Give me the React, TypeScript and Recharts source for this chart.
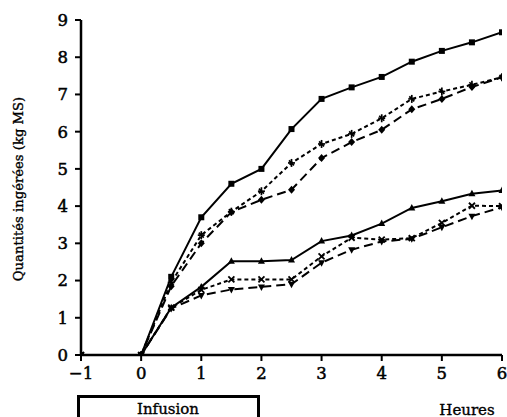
import React from "react";
import { LineChart, Line, XAxis, YAxis } from "recharts";

const hours = [-1, 0, 0.5, 1, 1.5, 2, 2.5, 3, 3.5, 4, 4.5, 5, 5.5, 6];
const seriesSquare = [0, 0, 2.1, 3.7, 4.6, 5.0, 6.07, 6.88, 7.19, 7.47, 7.88, 8.17, 8.4, 8.67];
const seriesStar = [0, 0, 1.95, 3.22, 3.85, 4.4, 5.16, 5.67, 5.94, 6.36, 6.88, 7.08, 7.26, 7.46];
const seriesDiamond = [0, 0, 1.85, 3.0, 3.84, 4.17, 4.44, 5.29, 5.72, 6.05, 6.6, 6.88, 7.2, 7.46];
const seriesTriangle = [0, 0, 1.27, 1.83, 2.52, 2.52, 2.55, 3.06, 3.21, 3.53, 3.95, 4.13, 4.33, 4.42];
const seriesCross = [0, 0, 1.27, 1.75, 2.03, 2.03, 2.03, 2.65, 3.15, 3.1, 3.14, 3.55, 4.01, 4.0];
const seriesInvTriangle = [0, 0, 1.25, 1.6, 1.76, 1.83, 1.9, 2.48, 2.83, 3.05, 3.12, 3.43, 3.73, 3.97];

const xTicks = [-1, 0, 1, 2, 3, 4, 5, 6];
const yTicks = [0, 1, 2, 3, 4, 5, 6, 7, 8, 9];
const yLabel = "Quantités ingérées (kg MS)";
const xLabel = "Heures";
const infusionLabel = "Infusion";

const data = hours.map((h, i) => ({
  h,
  a: seriesSquare[i],
  b: seriesStar[i],
  c: seriesDiamond[i],
  d: seriesTriangle[i],
  e: seriesCross[i],
  f: seriesInvTriangle[i],
}));

const FONT = "'DejaVu Serif', serif";

type Shape = "square" | "star" | "diamond" | "triangle" | "cross" | "invtri";

const makeDot = (shape: Shape) => (props: any) => {
  const { cx, cy, index } = props;
  const k = `dot-${shape}-${index}`;
  if (cx == null || cy == null) return <g key={k} />;
  switch (shape) {
    case "square":
      return <rect key={k} x={cx - 3} y={cy - 3} width={6} height={6} fill="#000" />;
    case "star":
      return (
        <g key={k} stroke="#000" strokeWidth={1.7}>
          <line x1={cx - 3.5} y1={cy} x2={cx + 3.5} y2={cy} />
          <line x1={cx} y1={cy - 4} x2={cx} y2={cy + 4} />
          <line x1={cx - 2.5} y1={cy - 2.5} x2={cx + 2.5} y2={cy + 2.5} />
        </g>
      );
    case "diamond":
      return <polygon key={k} points={`${cx},${cy - 4} ${cx + 3.5},${cy} ${cx},${cy + 4} ${cx - 3.5},${cy}`} fill="#000" />;
    case "triangle":
      return <polygon key={k} points={`${cx},${cy - 4} ${cx + 3.5},${cy + 2.5} ${cx - 3.5},${cy + 2.5}`} fill="#000" />;
    case "cross":
      return (
        <g key={k} stroke="#000" strokeWidth={1.8}>
          <line x1={cx - 3} y1={cy - 3} x2={cx + 3} y2={cy + 3} />
          <line x1={cx - 3} y1={cy + 3} x2={cx + 3} y2={cy - 3} />
        </g>
      );
    case "invtri":
    default:
      return <polygon key={k} points={`${cx},${cy + 4} ${cx + 3.5},${cy - 2.5} ${cx - 3.5},${cy - 2.5}`} fill="#000" />;
  }
};

const tickStyle = { fill: "#000", stroke: "#000", strokeWidth: 0.5, fontSize: 16.5, fontFamily: FONT };

export default function App() {
  return (
    <div style={{ position: "absolute", left: 0, top: 0, width: 507, height: 417, background: "#fff", overflow: "hidden" }}>
      <LineChart width={507} height={417} data={data} margin={{ top: 20, right: 5, left: 21, bottom: 22 }}>
        <XAxis
          dataKey="h"
          type="number"
          domain={[-1, 6]}
          ticks={xTicks}
          tickFormatter={(v: number) => (v < 0 ? `\u2212${Math.abs(v)}` : `${v}`)}
          height={40}
          tickSize={6}
          tickMargin={6}
          axisLine={{ stroke: "#000", strokeWidth: 2.5 }}
          tickLine={{ stroke: "#000", strokeWidth: 2 }}
          tick={tickStyle}
          allowDataOverflow
        />
        <YAxis
          type="number"
          domain={[0, 9]}
          ticks={yTicks}
          width={60}
          tickSize={6}
          tickMargin={7}
          axisLine={{ stroke: "#000", strokeWidth: 2.5 }}
          tickLine={{ stroke: "#000", strokeWidth: 2 }}
          tick={tickStyle}
          allowDataOverflow
        />
        <Line dataKey="a" stroke="#000" strokeWidth={2} dot={makeDot("square")} isAnimationActive={false} />
        <Line dataKey="b" stroke="#000" strokeWidth={2} strokeDasharray="4 3" dot={makeDot("star")} isAnimationActive={false} />
        <Line dataKey="c" stroke="#000" strokeWidth={2} strokeDasharray="9 5" dot={makeDot("diamond")} isAnimationActive={false} />
        <Line dataKey="d" stroke="#000" strokeWidth={2} dot={makeDot("triangle")} isAnimationActive={false} />
        <Line dataKey="e" stroke="#000" strokeWidth={2} strokeDasharray="4 3" dot={makeDot("cross")} isAnimationActive={false} />
        <Line dataKey="f" stroke="#000" strokeWidth={2} strokeDasharray="9 5" dot={makeDot("invtri")} isAnimationActive={false} />
      </LineChart>
      <svg width={507} height={417} style={{ position: "absolute", left: 0, top: 0, pointerEvents: "none" }}>
        <text
          transform="translate(18,189) rotate(-90)"
          textAnchor="middle"
          dominantBaseline="central"
          fontFamily={FONT}
          fontSize={13.2}
          stroke="#000"
          strokeWidth={0.35}
          fill="#000"
        >
          {yLabel}
        </text>
        <path d="M78.5,420 L78.5,396.5 L258.5,396.5 L258.5,420" fill="none" stroke="#000" strokeWidth={3} />
        <text x={168} y={414} textAnchor="middle" fontFamily={FONT} fontSize={15} stroke="#000" strokeWidth={0.35} fill="#000">
          {infusionLabel}
        </text>
        <text x={467} y={414.5} textAnchor="middle" fontFamily={FONT} fontSize={15} stroke="#000" strokeWidth={0.35} fill="#000">
          {xLabel}
        </text>
      </svg>
    </div>
  );
}
